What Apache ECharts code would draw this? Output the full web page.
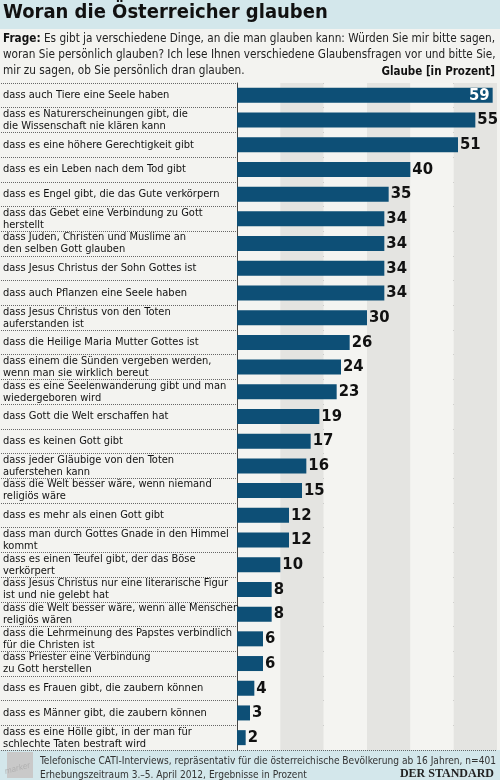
<!DOCTYPE html>
<html><head><meta charset="utf-8">
<script src="https://cdn.jsdelivr.net/npm/echarts@6/dist/echarts.min.js"></script>
<style>html,body{margin:0;padding:0;background:#f3f3f0}#c{width:500px;height:780px}</style>
</head><body><div id="c"></div>
<script>
const categories = [
 'dass auch Tiere eine Seele haben',
 'dass es Naturerscheinungen gibt, die\ndie Wissenschaft nie klären kann',
 'dass es eine höhere Gerechtigkeit gibt',
 'dass es ein Leben nach dem Tod gibt',
 'dass es Engel gibt, die das Gute verkörpern',
 'dass das Gebet eine Verbindung zu Gott\nherstellt',
 'dass Juden, Christen und Muslime an\nden selben Gott glauben',
 'dass Jesus Christus der Sohn Gottes ist',
 'dass auch Pflanzen eine Seele haben',
 'dass Jesus Christus von den Toten\nauferstanden ist',
 'dass die Heilige Maria Mutter Gottes ist',
 'dass einem die Sünden vergeben werden,\nwenn man sie wirklich bereut',
 'dass es eine Seelenwanderung gibt und man\nwiedergeboren wird',
 'dass Gott die Welt erschaffen hat',
 'dass es keinen Gott gibt',
 'dass jeder Gläubige von den Toten\nauferstehen kann',
 'dass die Welt besser wäre, wenn niemand\nreligiös wäre',
 'dass es mehr als einen Gott gibt',
 'dass man durch Gottes Gnade in den Himmel\nkommt',
 'dass es einen Teufel gibt, der das Böse\nverkörpert',
 'dass Jesus Christus nur eine literarische Figur\nist und nie gelebt hat',
 'dass die Welt besser wäre, wenn alle Menschen\nreligiös wären',
 'dass die Lehrmeinung des Papstes verbindlich\nfür die Christen ist',
 'dass Priester eine Verbindung\nzu Gott herstellen',
 'dass es Frauen gibt, die zaubern können',
 'dass es Männer gibt, die zaubern können',
 'dass es eine Hölle gibt, in der man für\nschlechte Taten bestraft wird'
];
const values = [59,55,51,40,35,34,34,34,34,30,26,24,23,19,17,16,15,12,12,10,8,8,6,6,4,3,2];
const titleText = 'Woran die Österreicher glauben';
const questionLines = [
 '{b|Frage:} Es gibt ja verschiedene Dinge, an die man glauben kann: Würden Sie mir bitte sagen,',
 'woran Sie persönlich glauben? Ich lese Ihnen verschiedene Glaubensfragen vor und bitte Sie,',
 'mir zu sagen, ob Sie persönlich dran glauben.'
];
const unitText = 'Glaube [in Prozent]';
const footerLines = [
 'Telefonische CATI-Interviews, repräsentativ für die österreichische Bevölkerung ab 16 Jahren, n=401',
 'Erhebungszeitraum 3.–5. April 2012, Ergebnisse in Prozent'
];
const sourceText = 'DER STANDARD';

const FONT = "'DejaVu Sans Condensed','DejaVu Sans',sans-serif";
const chart = echarts.init(document.getElementById('c'), null, {renderer:'canvas'});
const TOP = 83, BOTTOM = 30;
chart.setOption({
  backgroundColor: '#f3f3f0',
  animation: false,
  textStyle: {fontFamily: FONT},
  graphic: [
    {type:'rect', shape:{x:0,y:0,width:500,height:29}, style:{fill:'#d3e7eb'}, z:-1},
    {type:'rect', shape:{x:0,y:750,width:500,height:30}, style:{fill:'#d3e7eb'}, z:-1},
    {type:'rect', shape:{x:7,y:752,width:26,height:26}, style:{fill:'#c9c9c9'}},
    {type:'text', x:4, y:768, rotation:0.25, style:{text:'marker', fill:'#b0b0b0', font:"italic 8px "+FONT}}
  ],
  title: [
    {text: titleText, left: 3, top: 3, padding: 0, textStyle:{fontFamily:FONT, fontSize:20, fontWeight:'bold', color:'#111'}},
    {text: questionLines.join('\n'), left: 3, top: 31, padding: 0,
     textStyle:{fontFamily:FONT, fontSize:11.7, fontWeight:'normal', color:'#222', lineHeight:16,
       rich:{b:{fontFamily:FONT, fontSize:11.7, fontWeight:'bold', color:'#111', lineHeight:16}}}},
    {text: unitText, right: 5, top: 66, padding: 0, textStyle:{fontFamily:FONT, fontSize:11.5, fontWeight:'bold', color:'#111'}},
    {text: footerLines.join('\n'), left: 40, top: 754, padding: 0, textStyle:{fontFamily:FONT, fontSize:10.1, fontWeight:'normal', color:'#333', lineHeight:14}},
    {text: sourceText, right: 6, top: 768, padding: 0, textStyle:{fontFamily:"'Liberation Serif',serif", fontSize:12, fontWeight:'bold', color:'#222'}}
  ],
  grid: [
    {left: 0, width: 237, top: TOP, bottom: BOTTOM},
    {left: 237, right: 3, top: TOP, bottom: BOTTOM}
  ],
  xAxis: [
    {gridIndex:0, type:'value', min:0, max:1, show:false},
    {gridIndex:1, type:'value', min:0, max:60, interval:10,
     axisLine:{show:false}, axisTick:{show:false}, axisLabel:{show:false},
     splitLine:{show:false},
     splitArea:{show:true, areaStyle:{color:['#f4f4f1','#e4e4e1']}}}
  ],
  yAxis: [
    {gridIndex:0, type:'category', data:categories, inverse:true,
     axisLine:{show:false}, axisTick:{show:false},
     axisLabel:{inside:true, margin:2, fontFamily:FONT, fontSize:11, color:'#111', lineHeight:12},
     splitLine:{show:true, lineStyle:{type:'dotted', color:'#666', width:1}}},
    {gridIndex:1, type:'category', data:categories, inverse:true,
     axisLine:{show:true, lineStyle:{color:'#444', width:1}}, axisTick:{show:false},
     axisLabel:{show:false},
     splitLine:{show:true, lineStyle:{type:'dotted', color:'#666', width:1}}}
  ],
  series: [{
    type:'bar', xAxisIndex:1, yAxisIndex:1,
    data: values.map((v,i)=> i===0 ? {value:v, label:{position:'insideRight', color:'#fff', distance:3}} : v),
    barWidth: 15,
    itemStyle:{color:'#0d4f76'},
    label:{show:true, position:'right', distance:2, fontFamily:FONT, fontSize:16.5, fontWeight:'bold', color:'#111'}
  }]
});
</script></body></html>
